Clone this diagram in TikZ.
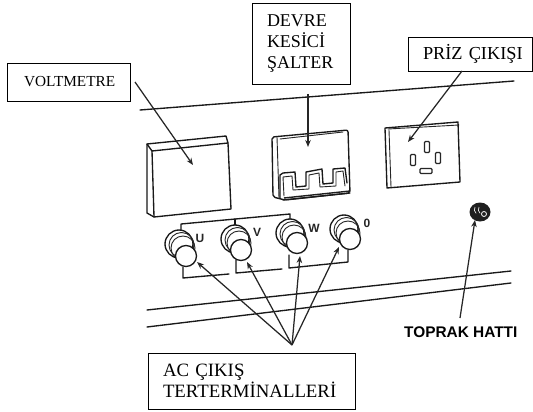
\documentclass[tikz,border=0pt]{standalone}
\usepackage{fontspec}
\setmainfont{Liberation Serif}
\setsansfont{Liberation Sans}
\usetikzlibrary{arrows.meta}
\tikzset{
  lbl/.style={draw=black,line width=0.9pt,fill=white,inner ysep=0pt,inner xsep=15pt,align=left,anchor=center},
  pen/.style={draw=black!90,line width=1.35pt,line join=round,line cap=round},
  thin pen/.style={draw=black!85,line width=0.9pt,line join=round,line cap=round},
  callout/.style={draw=black!85,line width=1.25pt,-{Stealth[length=7pt,width=5.5pt]}},
  knob/.style={pen,fill=white},
  letter/.style={font=\sffamily\bfseries\fontsize{12}{12}\selectfont,text=black!85,inner sep=0pt},
  slot/.style={draw=black!85,line width=1.1pt,fill=white,rounded corners=1pt,minimum width=0pt}
}
\begin{document}
\begin{tikzpicture}[x=1pt,y=-1pt]
\useasboundingbox (0,0) rectangle (533,412);
% panel lines
\draw[pen] (140,110) -- (514,81);
\draw[pen] (147,310) -- (511,271);
\draw[pen] (147,327) -- (511,283);
% voltmeter
\draw[pen,fill=white] (147,144) -- (226,136) -- (228,143) -- (231,209) -- (154,217) -- (147,213) -- cycle;
\draw[pen] (147,144) -- (152,151) -- (228,143);
\draw[pen] (152,151) -- (154,217);
% breaker
\draw[pen,rounded corners=2pt,fill=white] (272,137) -- (348,130) -- (350,193) -- (285,200) -- (273,197) -- cycle;
\draw[thin pen] (277,137) -- (279,198);
\draw[thin pen] (280,139) -- (343,132);
\draw[pen] (283,200) -- (350,193);
\draw[line width=1.4pt,black!88] (284,198) -- (350,191);
\draw[pen] (280,198) -- (280,175) -- (283,173) -- (295,172) -- (296,187) -- (306,186) -- (306,172) -- (322,169) -- (323,184) -- (333,183) -- (333,169) -- (345,168) -- (347,183);
\draw[thin pen] (284,196) -- (283,177) -- (292,176) -- (293,190) -- (309,189) -- (309,175) -- (319,173) -- (320,187) -- (336,186) -- (336,172) -- (343,171) -- (345,186);
% socket
\draw[pen,fill=white] (385,128) -- (458,122) -- (460,182) -- (387,188) -- cycle;
\draw[thin pen] (389,130) -- (391,187);
\draw[thin pen] (388,129) -- (459,125);
\node[slot,minimum width=5pt,minimum height=11pt,inner sep=0pt] (pintop) at (427,147) {};
\node[slot,minimum width=5pt,minimum height=11pt,inner sep=0pt] (pinleft) at (413,160) {};
\node[slot,minimum width=5pt,minimum height=11pt,inner sep=0pt] (pinright) at (438,158) {};
\node[slot,minimum width=12pt,minimum height=5pt,inner sep=0pt] (pinbottom) at (426,171) {};
% wiring brackets
\draw[pen] (181,232) -- (181,224) -- (290,214) -- (290,221);
\draw[pen] (235,219) -- (235,225);
\draw[pen] (183,267) -- (183,278) -- (229,274);
\draw[pen] (236,260) -- (236,273) -- (282,269);
\draw[pen] (289,255) -- (289,268) -- (348,262) -- (348,250);
% terminals
\foreach \n/\bx/\by/\fx/\fy in {u/179/244/186/256, v/235/239/241/250, w/290/233/297/243, o/344/229/350/239}{
  \draw[knob] (\bx,\by) circle (14pt);
  \draw[thin pen] (\bx+2.5,\by+1) circle (12.5pt);
  \draw[thin pen] (\bx+4,\by+4) circle (12pt);
  \node[knob,circle,minimum size=21pt,inner sep=0pt] (\n) at (\fx,\fy) {};
}
\node[letter] (lu) at (200,238) {U};
\node[letter] (lv) at (257,232) {V};
\node[letter] (lw) at (314,228) {W};
\node[letter] (lo) at (367,223) {0};
% ground stud
\fill[black!88] (480,212) ellipse (10.5pt and 9.5pt);
\draw[white,line width=0.6pt] (475,207) arc (150:230:5pt);
\draw[white,line width=0.6pt] (479,207) arc (150:230:5pt);
\node[draw=white,line width=0.8pt,circle,minimum size=5pt,inner sep=0pt] (stud) at (484,214) {};
% label boxes
\node[lbl,minimum width=123.5pt,minimum height=38pt,text width=89.5pt,inner xsep=17pt,font=\fontsize{15.3}{18}\selectfont] (volt) at (68.75,82) {VOLTMETRE};
\node[lbl,minimum width=98pt,minimum height=81pt,text width=68pt,font=\fontsize{18}{21}\selectfont] (devre) at (301,43.5) {DEVRE\\KESİCİ\\ŞALTER};
\node[lbl,minimum width=124pt,minimum height=34pt,text width=94pt,font=\fontsize{18.3}{21}\selectfont] (priz) at (470,54) {\mbox{PRİZ ÇIKIŞI}};
\node[lbl,minimum width=207pt,minimum height=56pt,text width=177pt,font=\fontsize{18.8}{21}\selectfont] (ac) at (251.5,381) {AC ÇIKIŞ\\TERTERMİNALLERİ};
\node[inner sep=0pt,anchor=base west,font=\sffamily\bfseries\fontsize{15.4}{15}\selectfont] (toprak) at (404,337) {TOPRAK HATTI};
% free ends
\coordinate (vs) at (135,82);
\coordinate (vt) at (193,165);
\coordinate (ds) at (308,94);
\coordinate (dt) at (308,147);
\coordinate (ps) at (462,71);
\coordinate (pt) at (408,142);
\coordinate (gs) at (460,318);
\coordinate (gt) at (475,220);
\coordinate (hub) at (292,345);
\coordinate (tu) at (197,262);
\coordinate (tv) at (247,262);
\coordinate (tw) at (300,256);
\coordinate (to) at (339,247);
% callouts
\draw[callout] (vs) -- (vt);
\draw[callout] (ds) -- (dt);
\draw[callout] (ps) -- (pt);
\draw[callout] (gs) -- (gt);
\draw[callout] (hub) -- (tu);
\draw[callout] (hub) -- (tv);
\draw[callout] (hub) -- (tw);
\draw[callout] (hub) -- (to);
\end{tikzpicture}
\end{document}
